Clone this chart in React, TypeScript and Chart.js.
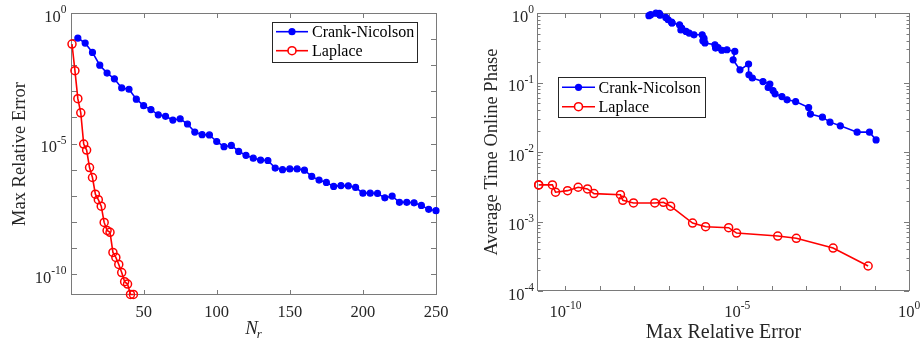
import React, { useEffect, useRef } from 'react';
import { Chart, registerables } from 'chart.js';
Chart.register(...registerables);

// ---------- data ----------
const nrCrank = [5, 10, 15, 20, 25, 30, 35, 40, 45, 50, 55, 60, 65, 70, 75, 80, 85, 90, 95, 100,
  105, 110, 115, 120, 125, 130, 135, 140, 145, 150, 155, 160, 165, 170, 175, 180, 185, 190, 195, 200,
  205, 210, 215, 220, 225, 230, 235, 240, 245, 250];
const errCrank = [1.10e-1, 7.08e-2, 3.09e-2, 1.00e-2, 5.01e-3, 3.02e-3, 1.35e-3, 1.20e-3, 5.01e-4, 2.82e-4,
  2.00e-4, 1.26e-4, 1.10e-4, 7.94e-5, 8.91e-5, 5.62e-5, 2.75e-5, 2.19e-5, 2.14e-5, 1.20e-5,
  7.59e-6, 8.51e-6, 5.01e-6, 3.55e-6, 2.75e-6, 2.34e-6, 2.24e-6, 1.15e-6, 1.00e-6, 1.07e-6,
  1.07e-6, 9.55e-7, 5.50e-7, 3.98e-7, 3.24e-7, 2.29e-7, 2.45e-7, 2.40e-7, 2.09e-7, 1.26e-7,
  1.26e-7, 1.23e-7, 8.32e-8, 9.77e-8, 5.62e-8, 5.62e-8, 5.37e-8, 4.27e-8, 3.02e-8, 2.69e-8];
const timeCrank = [0.0149, 0.0193, 0.0193, 0.0238, 0.0269, 0.0317, 0.0351, 0.0437, 0.0532, 0.0564,
  0.0628, 0.0687, 0.0767, 0.0847, 0.0948, 0.103, 0.116, 0.129, 0.184, 0.152,
  0.212, 0.280, 0.296, 0.291, 0.319, 0.313, 0.349, 0.370, 0.398, 0.417,
  0.437, 0.486, 0.486, 0.515, 0.543, 0.569, 0.589, 0.608, 0.678, 0.718,
  0.724, 0.741, 0.865, 0.800, 0.933, 0.946, 0.989, 0.995, 0.946, 0.914];

const nrLaplace = [1, 3, 5, 7, 9, 11, 13, 15, 17, 19, 21, 23, 25, 27, 29, 31, 33, 35, 37, 39, 41, 43];
const errLaplace = [6.46e-2, 6.17e-3, 5.25e-4, 1.51e-4, 9.55e-6, 5.62e-6, 1.20e-6, 5.01e-7, 1.15e-7, 7.08e-8,
  3.98e-8, 9.55e-9, 4.68e-9, 3.98e-9, 6.76e-10, 4.37e-10, 2.34e-10, 1.15e-10, 5.13e-11, 4.17e-11,
  1.66e-11, 1.66e-11];
const timeLaplace = [2.29e-4, 4.15e-4, 5.73e-4, 6.18e-4, 6.82e-4, 8.15e-4, 8.41e-4, 9.51e-4, 1.66e-3, 1.89e-3,
  1.85e-3, 1.85e-3, 2.02e-3, 2.43e-3, 2.52e-3, 2.94e-3, 3.11e-3, 2.78e-3, 2.64e-3, 3.36e-3,
  3.36e-3, 3.36e-3];

const seriesNames = ['Crank-Nicolson', 'Laplace'];

// tick labels
const leftXTicks = [50, 100, 150, 200, 250];
const leftXTickLabels = ['50', '100', '150', '200', '250'];
const leftYLabelValues = [1, 1e-5, 1e-10];
const leftYLabelExps = ['0', '-5', '-10'];
const rightXLabelValues = [1e-10, 1e-5, 1];
const rightXLabelExps = ['-10', '-5', '0'];
const rightYLabelValues = [1, 1e-1, 1e-2, 1e-3, 1e-4];
const rightYLabelExps = ['0', '-1', '-2', '-3', '-4'];

const leftXRange = [1, 250];
const errRange = [1.585e-11, 1];
const timeRange = [1e-4, 1];

// ---------- styling ----------
const FONT = '"Liberation Serif", "Times New Roman", Times, serif';
const AXIS = '#7a7a7a';
const TEXT = '#262626';
const BLUE = '#0000ff';
const RED = '#ff0000';

function drawPow(ctx: CanvasRenderingContext2D, x: number, y: number, exp: string, align: 'right' | 'center', baseSize: number, expSize: number, expRaise: number) {
  ctx.font = `${baseSize}px ${FONT}`;
  const wb = ctx.measureText('10').width;
  ctx.font = `${expSize}px ${FONT}`;
  const we = ctx.measureText(exp).width;
  const total = wb + we;
  const sx = align === 'right' ? x - total : x - total / 2;
  ctx.textAlign = 'left';
  ctx.textBaseline = 'alphabetic';
  ctx.fillStyle = TEXT;
  ctx.font = `${baseSize}px ${FONT}`;
  ctx.fillText('10', sx, y);
  ctx.font = `${expSize}px ${FONT}`;
  ctx.fillText(exp, sx + wb, y - expRaise);
}

function decadesIn(min: number, max: number) {
  const out: number[] = [];
  for (let e = Math.ceil(Math.log10(min) - 1e-9); e <= Math.floor(Math.log10(max) + 1e-9); e++) out.push(Math.pow(10, e));
  return out;
}

function drawLegend(ctx: CanvasRenderingContext2D, bx: number, by: number, bw: number, bh: number, rows: number[], lineX0: number, lineX1: number, textX: number) {
  ctx.save();
  ctx.fillStyle = '#ffffff';
  ctx.fillRect(bx, by, bw, bh);
  ctx.strokeStyle = '#262626';
  ctx.lineWidth = 1;
  ctx.strokeRect(bx + 0.5, by + 0.5, bw, bh);
  const mx = (lineX0 + lineX1) / 2;
  // Crank-Nicolson
  ctx.strokeStyle = BLUE;
  ctx.lineWidth = 1.6;
  ctx.beginPath(); ctx.moveTo(lineX0, rows[0]); ctx.lineTo(lineX1, rows[0]); ctx.stroke();
  ctx.fillStyle = BLUE;
  ctx.beginPath(); ctx.arc(mx, rows[0], 3.6, 0, Math.PI * 2); ctx.fill();
  // Laplace
  ctx.strokeStyle = RED;
  ctx.beginPath(); ctx.moveTo(lineX0, rows[1]); ctx.lineTo(lineX1, rows[1]); ctx.stroke();
  ctx.fillStyle = '#ffffff';
  ctx.beginPath(); ctx.arc(mx, rows[1], 4, 0, Math.PI * 2); ctx.fill(); ctx.stroke();
  ctx.fillStyle = '#000000';
  ctx.font = `16px ${FONT}`;
  ctx.textAlign = 'left';
  ctx.textBaseline = 'middle';
  ctx.fillText(seriesNames[0], textX, rows[0] + 1);
  ctx.fillText(seriesNames[1], textX, rows[1] + 1);
  ctx.restore();
}

function frame(ctx: CanvasRenderingContext2D, a: any) {
  ctx.strokeStyle = AXIS;
  ctx.lineWidth = 1;
  ctx.strokeRect(Math.round(a.left) - 0.5, Math.round(a.top) + 0.5, Math.round(a.right - a.left) + 1, Math.round(a.bottom - a.top) - 1);
}

function vTick(ctx: CanvasRenderingContext2D, x: number, a: any, len: number) {
  const px = Math.round(x) + 0.5;
  ctx.beginPath();
  ctx.moveTo(px, a.bottom); ctx.lineTo(px, a.bottom - len);
  ctx.moveTo(px, a.top); ctx.lineTo(px, a.top + len);
  ctx.stroke();
}
function hTick(ctx: CanvasRenderingContext2D, y: number, a: any, len: number) {
  const py = Math.round(y) + 0.5;
  ctx.beginPath();
  ctx.moveTo(a.left, py); ctx.lineTo(a.left + len, py);
  ctx.moveTo(a.right, py); ctx.lineTo(a.right - len, py);
  ctx.stroke();
}

const leftPlugin = {
  id: 'leftAxes',
  beforeDatasetsDraw(chart: any) {
    const { ctx, chartArea: a, scales } = chart;
    const xs = scales.x, ys = scales.y;
    ctx.save();
    frame(ctx, a);
    leftXTicks.forEach(v => vTick(ctx, xs.getPixelForValue(v), a, 5));
    decadesIn(errRange[0], errRange[1]).forEach(v => hTick(ctx, ys.getPixelForValue(v), a, 5));
    // x tick labels
    ctx.fillStyle = TEXT;
    ctx.font = `16.5px ${FONT}`;
    ctx.textAlign = 'center';
    ctx.textBaseline = 'alphabetic';
    leftXTicks.forEach((v, i) => ctx.fillText(leftXTickLabels[i], xs.getPixelForValue(v), 317));
    // y tick labels
    leftYLabelValues.forEach((v, i) => drawPow(ctx, 66.5, ys.getPixelForValue(v) + 8.5, leftYLabelExps[i], 'right', 16.5, 11.5, 8.5));
    // x title N_r
    ctx.font = `italic 19px ${FONT}`;
    const wN = ctx.measureText('N').width;
    ctx.font = `italic 13px ${FONT}`;
    const wr = ctx.measureText('r').width;
    const cx = (a.left + a.right) / 2;
    const sx = cx - (wN + wr) / 2;
    ctx.textAlign = 'left';
    ctx.font = `italic 19px ${FONT}`;
    ctx.fillText('N', sx, 334);
    ctx.font = `italic 13px ${FONT}`;
    ctx.fillText('r', sx + wN - 1, 338);
    // y title
    ctx.save();
    ctx.translate(25, (a.top + a.bottom) / 2);
    ctx.rotate(-Math.PI / 2);
    ctx.textAlign = 'center';
    ctx.font = `18.5px ${FONT}`;
    ctx.fillText('Max Relative Error', 0, 0);
    ctx.restore();
    ctx.restore();
  },
  afterDatasetsDraw(chart: any) {
    drawLegend(chart.ctx, 272, 22, 145, 40, [31.7, 50.7], 276, 308, 312);
  },
};

const rightPlugin = {
  id: 'rightAxes',
  beforeDatasetsDraw(chart: any) {
    const { ctx, chartArea: a, scales } = chart;
    const xs = scales.x, ys = scales.y;
    ctx.save();
    frame(ctx, a);
    decadesIn(errRange[0], errRange[1]).forEach(v => vTick(ctx, xs.getPixelForValue(v), a, 5));
    const yDec = decadesIn(timeRange[0], timeRange[1]);
    yDec.forEach(v => hTick(ctx, ys.getPixelForValue(v), a, 5));
    yDec.forEach(v => {
      for (let m = 2; m <= 9; m++) {
        const val = v * m;
        if (val < timeRange[1]) hTick(ctx, ys.getPixelForValue(val), a, 2.5);
      }
    });
    rightXLabelValues.forEach((v, i) => drawPow(ctx, xs.getPixelForValue(v), 317, rightXLabelExps[i], 'center', 16.5, 11.5, 8));
    rightYLabelValues.forEach((v, i) => drawPow(ctx, 74, ys.getPixelForValue(v) + 8.5, rightYLabelExps[i], 'right', 16.5, 11.5, 8.5));
    ctx.fillStyle = TEXT;
    ctx.font = `20px ${FONT}`;
    ctx.textAlign = 'center';
    ctx.textBaseline = 'alphabetic';
    ctx.fillText('Max Relative Error', (a.left + a.right) / 2, 338);
    ctx.save();
    ctx.translate(37, (a.top + a.bottom) / 2);
    ctx.rotate(-Math.PI / 2);
    ctx.font = `18.5px ${FONT}`;
    ctx.fillText('Average Time Online Phase', 0, 0);
    ctx.restore();
    ctx.restore();
  },
  afterDatasetsDraw(chart: any) {
    drawLegend(chart.ctx, 98, 77, 147, 40, [87.3, 106.7], 102, 135, 138.5);
  },
};

function crankStyle(data: any[]) {
  return {
    label: seriesNames[0], data, borderColor: BLUE, backgroundColor: BLUE,
    borderWidth: 1.6, pointRadius: 3, pointBorderWidth: 1.2, pointBackgroundColor: BLUE,
    pointBorderColor: BLUE, clip: false as any, order: 2, tension: 0,
  };
}
function laplaceStyle(data: any[]) {
  return {
    label: seriesNames[1], data, borderColor: RED, backgroundColor: 'rgba(0,0,0,0)',
    borderWidth: 1.6, pointRadius: 4, pointBorderWidth: 1.5, pointBackgroundColor: 'rgba(0,0,0,0)',
    pointBorderColor: RED, clip: false as any, order: 1, tension: 0,
  };
}

function baseOptions(padding: any, xScale: any, yScale: any) {
  return {
    responsive: false,
    animation: false as const,
    devicePixelRatio: 1,
    layout: { padding },
    scales: { x: { ...xScale, display: false }, y: { ...yScale, display: false } },
    plugins: { legend: { display: false }, tooltip: { enabled: false } },
    events: [] as any[],
  };
}

export default function App() {
  const leftRef = useRef<HTMLCanvasElement>(null);
  const rightRef = useRef<HTMLCanvasElement>(null);
  useEffect(() => {
    const left = new Chart(leftRef.current!, {
      type: 'line',
      data: {
        datasets: [
          crankStyle(nrCrank.map((n, i) => ({ x: n, y: errCrank[i] }))),
          laplaceStyle(nrLaplace.map((n, i) => ({ x: n, y: errLaplace[i] }))),
        ] as any,
      },
      options: baseOptions({ left: 72, right: 24, top: 13, bottom: 51 },
        { type: 'linear', min: leftXRange[0], max: leftXRange[1] },
        { type: 'logarithmic', min: errRange[0], max: errRange[1] }) as any,
      plugins: [leftPlugin],
    });
    const right = new Chart(rightRef.current!, {
      type: 'line',
      data: {
        datasets: [
          crankStyle(errCrank.map((e, i) => ({ x: e, y: timeCrank[i] }))),
          laplaceStyle(errLaplace.map((e, i) => ({ x: e, y: timeLaplace[i] }))),
        ] as any,
      },
      options: baseOptions({ left: 78, right: 11, top: 13, bottom: 55 },
        { type: 'logarithmic', min: errRange[0], max: errRange[1] },
        { type: 'logarithmic', min: timeRange[0], max: timeRange[1] }) as any,
      plugins: [rightPlugin],
    });
    return () => { left.destroy(); right.destroy(); };
  }, []);
  return (
    <div style={{ position: 'absolute', left: 0, top: 0, width: 920, height: 346, background: '#fff' }}>
      <canvas ref={leftRef} width={460} height={346} style={{ position: 'absolute', left: 0, top: 0, width: 460, height: 346 }} />
      <canvas ref={rightRef} width={460} height={346} style={{ position: 'absolute', left: 460, top: 0, width: 460, height: 346 }} />
    </div>
  );
}
